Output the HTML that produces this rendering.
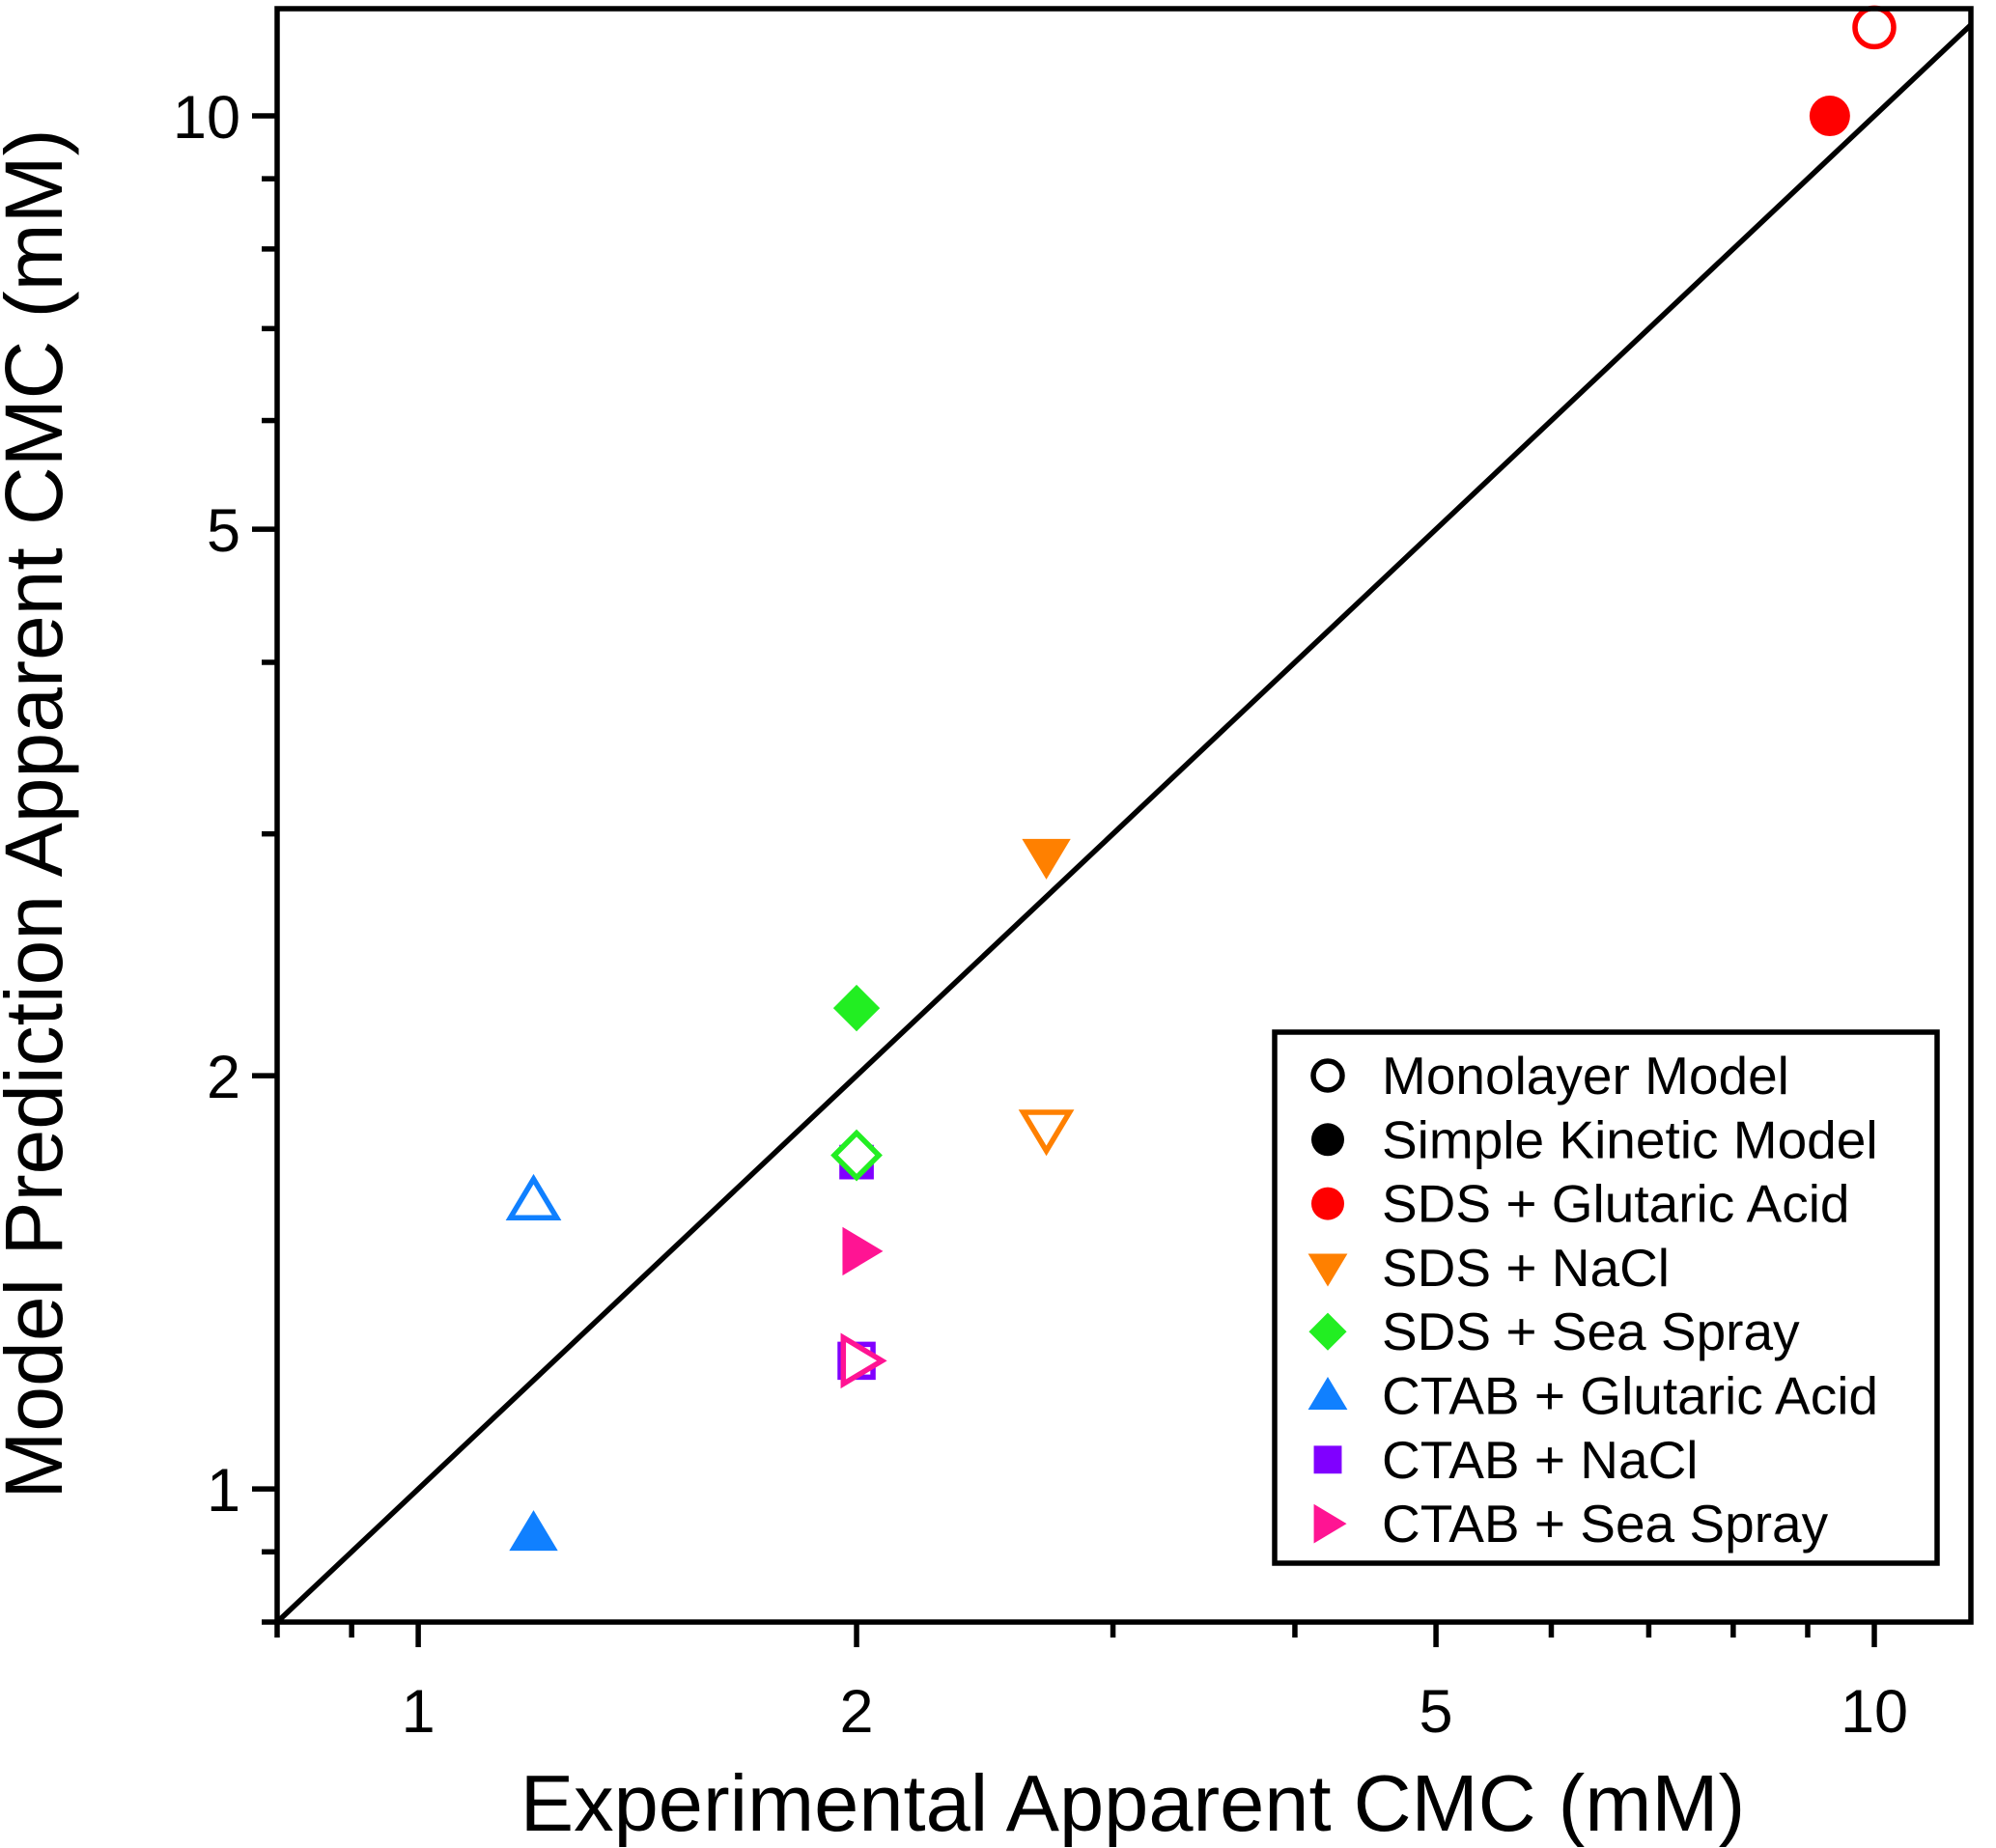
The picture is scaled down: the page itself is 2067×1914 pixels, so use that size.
<!DOCTYPE html>
<html><head><meta charset="utf-8"><style>
html,body{margin:0;padding:0;background:#fff}
svg{display:block}
text{font-family:"Liberation Sans",Arial,sans-serif;fill:#000}
</style></head><body>
<svg id="chart" width="2067" height="1914" viewBox="0 0 2067 1914">
<g id="marks"></g>
<g id="axes"></g>
<text x="1173" y="1896" font-size="83" text-anchor="middle">Experimental Apparent CMC (mM)</text>
<text transform="translate(64,843) rotate(-90)" font-size="84" text-anchor="middle">Model Prediction Apparent CMC (mM)</text>
<g id="legend"></g>
</svg>
<script>
const seriesNames=["SDS + Glutaric Acid","SDS + NaCl","SDS + Sea Spray","CTAB + Glutaric Acid","CTAB + NaCl","CTAB + Sea Spray"];
const seriesColors=["#ff0000","#ff8000","#22ee22","#1080ff","#8000ff","#ff1493"];
const seriesShapes=["circle","down","diamond","up","square","right"];
const expX=[10,2.7,2,1.2,2,2.01];
const monolayerY=[11.6,1.83,1.75,1.62,1.24,1.24];
const expXKin=[9.32,2.7,2,1.2,2,2.01];
const kineticY=[10,2.89,2.24,0.928,1.73,1.49];
const xTicks=[1,2,5,10];
const yTicks=[1,2,5,10];
const minorTicks=[0.8,0.9,3,4,6,7,8,9];

const L=287,R=2041,T=9,B=1680;
const xmin=0.8,xmax=11.65,ymin=0.8,ymax=11.97;
const X=v=>L+(Math.log10(v)-Math.log10(xmin))/(Math.log10(xmax)-Math.log10(xmin))*(R-L);
const Y=v=>B-(Math.log10(v)-Math.log10(ymin))/(Math.log10(ymax)-Math.log10(ymin))*(B-T);
const NS="http://www.w3.org/2000/svg";
function mk(tag,attrs,parent){const e=document.createElementNS(NS,tag);for(const k in attrs)e.setAttribute(k,attrs[k]);parent.appendChild(e);return e;}
const axes=document.getElementById('axes'),marks=document.getElementById('marks'),leg=document.getElementById('legend');

function shape(kind,cx,cy,s,color,filled,parent){
  const st={fill:filled?color:'#fff',stroke:color,'stroke-width':filled?0:5.5};
  let e;
  if(kind==='circle'){e=mk('circle',Object.assign({cx:cx,cy:cy,r:s},st),parent);}
  else{
    let p;
    if(kind==='square'){const h=s*0.85;p=[[cx-h,cy-h],[cx+h,cy-h],[cx+h,cy+h],[cx-h,cy+h]];}
    else if(kind==='diamond'){p=[[cx,cy-s*1.15],[cx+s*1.15,cy],[cx,cy+s*1.15],[cx-s*1.15,cy]];}
    else if(kind==='up'){p=[[cx,cy-s*1.15],[cx+s*1.2,cy+s*0.85],[cx-s*1.2,cy+s*0.85]];}
    else if(kind==='down'){p=[[cx,cy+s*1.15],[cx+s*1.2,cy-s*0.85],[cx-s*1.2,cy-s*0.85]];}
    else {p=[[cx+s*1.15,cy],[cx-s*0.85,cy-s*1.2],[cx-s*0.85,cy+s*1.2]];}
    e=mk('polygon',Object.assign({points:p.map(a=>a.join(',')).join(' ')},st),parent);
  }
  return e;
}

const d=mk('line',{x1:X(0.8),y1:Y(0.8),x2:X(11.65),y2:Y(11.65),stroke:'#000','stroke-width':5.5},marks);



for(let i=0;i<seriesNames.length;i++){
  const a=shape(seriesShapes[i],X(expXKin[i]),Y(kineticY[i]),21,seriesColors[i],true,marks);
  
  
}
for(let i=0;i<seriesNames.length;i++){
  const b=shape(seriesShapes[i],X(expX[i]),Y(monolayerY[i]),20,seriesColors[i],false,marks);
  
  
}

const fr=mk('rect',{x:L,y:T,width:R-L,height:B-T,fill:'none',stroke:'#000','stroke-width':5.5},axes);


xTicks.forEach(v=>{
  mk('line',{x1:X(v),y1:B,x2:X(v),y2:B+26,stroke:'#000','stroke-width':5.5},axes);
  const t=mk('text',{x:X(v),y:B+114,'font-size':63,'text-anchor':'middle'},axes);t.textContent=v;
  
  
});
yTicks.forEach(v=>{
  mk('line',{x1:L,y1:Y(v),x2:L-26,y2:Y(v),stroke:'#000','stroke-width':5.5},axes);
  const t=mk('text',{x:L-38,y:Y(v)+23,'font-size':63,'text-anchor':'end'},axes);t.textContent=v;
  
  
});
minorTicks.forEach(v=>{
  mk('line',{x1:X(v),y1:B,x2:X(v),y2:B+16,stroke:'#000','stroke-width':5.5},axes);
  mk('line',{x1:L,y1:Y(v),x2:L-16,y2:Y(v),stroke:'#000','stroke-width':5.5},axes);
});

const lb=mk('rect',{x:1320,y:1069,width:686,height:550,fill:'#fff',stroke:'#000','stroke-width':5.5},leg);


const entries=[["Monolayer Model","circle","#000",false],["Simple Kinetic Model","circle","#000",true]];
seriesNames.forEach((n,i)=>entries.push([n,seriesShapes[i],seriesColors[i],true]));
entries.forEach((e,i)=>{
  const y=1114+i*66.3;
  shape(e[1],1375,y,e[3]?17:15,e[2],e[3],leg);
  const t=mk('text',{x:1431,y:y+19,'font-size':55},leg);t.textContent=e[0];
  
  
});
</script>
</body></html>
